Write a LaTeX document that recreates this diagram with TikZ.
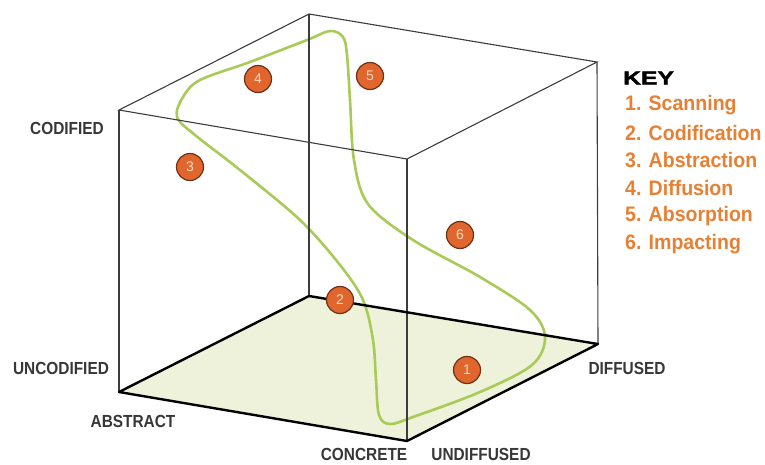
\documentclass[tikz,border=0pt]{standalone}
\usepackage{fontspec}
\setmainfont{Liberation Sans}
\newfontfamily\axisfont[FakeStretch=0.88]{Liberation Sans}
\newfontfamily\itemfont[FakeStretch=0.93]{Liberation Sans}
\newfontfamily\keyfont[FakeStretch=1.3,FakeBold=2]{Liberation Sans}
\usetikzlibrary{positioning}
\definecolor{keyorange}{RGB}{232,128,52}
\definecolor{badgefill}{RGB}{224,102,46}
\definecolor{badgeedge}{RGB}{110,48,22}
\definecolor{badgetext}{RGB}{250,220,190}
\definecolor{loopgreen}{RGB}{168,202,86}
\definecolor{floorfill}{RGB}{238,242,218}
\definecolor{labelgray}{RGB}{55,55,55}
\definecolor{edgegray}{RGB}{60,60,60}

\begin{document}
\begin{tikzpicture}[x=1pt,y=-1pt,
  axislabel/.style={font=\axisfont\bfseries\fontsize{17.5}{17.5}\selectfont, text=labelgray, inner sep=0pt},
  badge/.style={circle, fill=badgefill, draw=badgeedge, line width=1.2pt,
                minimum size=27pt, inner sep=0pt, font=\fontsize{14}{14}\selectfont, text=badgetext},
  keyitem/.style={font=\itemfont\bfseries\fontsize{21}{21}\selectfont, text=keyorange, anchor=west, inner sep=0pt},
  thinedge/.style={draw=edgegray, line width=1.1pt},
  flooredge/.style={draw=black, line width=2.4pt, line join=round}]

\useasboundingbox (0,0) rectangle (765,464);

% cube corners
\coordinate (tl) at (119,110);
\coordinate (tb) at (309,14);
\coordinate (tr) at (597,62);
\coordinate (tf) at (407,159);
\coordinate (bl) at (119,392);
\coordinate (bb) at (309,296);
\coordinate (br) at (598,344);
\coordinate (bf) at (407,441);

% floor
\fill[floorfill] (bl) -- (bb) -- (br) -- (bf) -- cycle;

% learning cycle
\draw[loopgreen, line width=2.6pt]
  plot[smooth cycle, tension=0.55] coordinates {
    (307,40) (330,31) (343,37) (347,55) (350,100) (354,160) (368,204)
    (413,240) (480,277) (530,310) (545,337) (532,365) (480,392)
    (413,417) (390,424) (379,415) (376,380) (373,340) (363,300)
    (340,265) (300,220) (240,170) (195,135) (177,117) (183,97) (200,80)
    (250,62)};

% edges
\draw[thinedge] (tl) -- (tb) -- (tr) -- (tf) -- cycle;
\draw[thinedge] (tl) -- (bl);
\draw[thinedge] (tb) -- (bb);
\draw[thinedge] (tr) -- (br);
\draw[thinedge] (tf) -- (bf);
\draw[flooredge] (bl) -- (bb) -- (br) -- (bf) -- cycle;

% stages
\node[badge] (s1) at (467,370) {1};
\node[badge] (s2) at (340,300) {2};
\node[badge] (s3) at (190,167) {3};
\node[badge] (s4) at (258,79) {4};
\node[badge] (s5) at (370,76) {5};
\node[badge] (s6) at (460,235) {6};

% axis labels
\node[axislabel] (codified) at (67,128) {CODIFIED};
\node[axislabel] (uncodified) at (61,368) {UNCODIFIED};
\node[axislabel] (abstract) at (133,421) {ABSTRACT};
\node[axislabel] (concrete) at (364,454) {CONCRETE};
\node[axislabel] (undiffused) at (481,454) {UNDIFFUSED};
\node[axislabel] (diffused) at (627,368) {DIFFUSED};

% key
\node[font=\keyfont\bfseries\fontsize{19}{19}\selectfont, anchor=west, inner sep=0pt] (key) at (623,78) {KEY};
\foreach \txt [count=\i] in {Scanning, Codification, Abstraction, Diffusion, Absorption, Impacting}
  \node[keyitem] (key\i) at (625,77+27.8*\i) {\i. \txt};

\end{tikzpicture}
\end{document}
